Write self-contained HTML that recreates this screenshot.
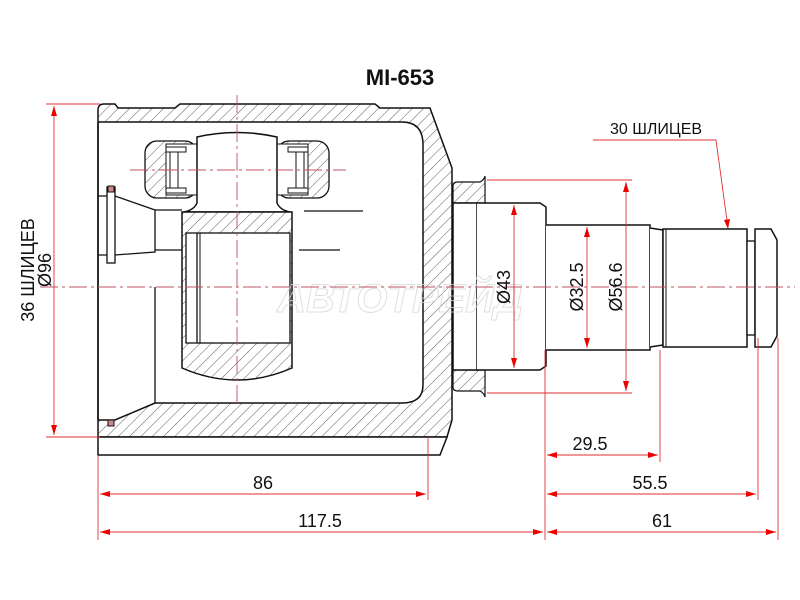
<!DOCTYPE html>
<html><head><meta charset="utf-8"><style>
html,body{margin:0;padding:0;background:#fff;}
svg{display:block;}
text{font-family:"Liberation Sans",sans-serif;}
</style></head><body>
<svg width="800" height="600" viewBox="0 0 800 600" xmlns="http://www.w3.org/2000/svg">
<defs>
<pattern id="h" patternUnits="userSpaceOnUse" width="8" height="8" patternTransform="rotate(45)">
<rect width="8" height="8" fill="#fff"/><line x1="0" y1="0" x2="0" y2="8" stroke="#333" stroke-width="0.8"/>
</pattern>
<marker id="a" viewBox="0 0 10 6" refX="10" refY="3" markerWidth="10" markerHeight="6" orient="auto-start-reverse" markerUnits="userSpaceOnUse"><path d="M0,0 L10,3 L0,6z" fill="#e00"/></marker>
</defs>

<text x="400" y="85" font-size="22" font-weight="bold" text-anchor="middle" fill="#111">MI-653</text>

<!-- body hatched shell -->
<path d="M98,110 Q98,104 104,104 L115,104 L118,108 L175,108 L180,104 L375,104 L380,108 L430,108 L452,168 L452,420 L447,437 L98,437 Z M98,122 L402,122 Q423,122 423,145 L423,385 Q423,403 402,403 L155,403 L115,420 L98,420 Z" fill="url(#h)" fill-rule="evenodd" stroke="#111" stroke-width="1.5"/>
<path d="M98,437 L447,437 L440,455 L98,455 Z" fill="#fff" stroke="#111" stroke-width="1.5"/>
<line x1="98" y1="122" x2="98" y2="420" stroke="#111" stroke-width="1.5"/>
<!-- left seal -->
<rect x="107" y="187" width="8" height="76" fill="#fff" stroke="#111" stroke-width="1.3"/>
<path d="M98,196 L107,196 M98,255 L107,255 M115,196 L155,210 L155,252 L115,255" fill="none" stroke="#111" stroke-width="1.3"/>
<line x1="155" y1="287" x2="155" y2="403" stroke="#111" stroke-width="1.3"/>
<line x1="155" y1="210" x2="182" y2="210" stroke="#111" stroke-width="1.3"/>
<line x1="155" y1="250" x2="182" y2="250" stroke="#111" stroke-width="1.3"/>
<rect x="108" y="186" width="6" height="6" fill="#c88" stroke="#111"/>
<rect x="108" y="420" width="6" height="6" fill="#c88" stroke="#111"/>

<!-- rollers housing -->
<rect x="145" y="141" width="52" height="57" rx="12" fill="url(#h)" stroke="#111" stroke-width="1.3"/>
<rect x="277" y="141" width="52" height="57" rx="12" fill="url(#h)" stroke="#111" stroke-width="1.3"/>
<rect x="166" y="144" width="31" height="51" fill="#fff" stroke="#111" stroke-width="1"/>
<rect x="277" y="144" width="31" height="51" fill="#fff" stroke="#111" stroke-width="1"/>
<rect x="170" y="150" width="8" height="40" fill="#fff" stroke="#111"/>
<rect x="296" y="150" width="8" height="40" fill="#fff" stroke="#111"/>
<rect x="166" y="147" width="20" height="5" fill="#fff" stroke="#111"/>
<rect x="166" y="188" width="20" height="5" fill="#fff" stroke="#111"/>
<rect x="288" y="147" width="20" height="5" fill="#fff" stroke="#111"/>
<rect x="288" y="188" width="20" height="5" fill="#fff" stroke="#111"/>
<!-- trunnion -->
<path d="M197,137 Q237,128 277,137 L277,203 Q280,210 290,212 L184,212 Q194,210 197,203 Z" fill="#fff" stroke="#111" stroke-width="1.5"/>
<line x1="304" y1="211" x2="363" y2="211" stroke="#111" stroke-width="1.3"/>
<line x1="299" y1="250" x2="340" y2="250" stroke="#111" stroke-width="1.3"/>
<!-- tripod center -->
<path d="M182,212 L292,212 L292,368 Q237,392 182,368 Z" fill="url(#h)" stroke="#111" stroke-width="1.5"/>
<rect x="186" y="233" width="104" height="110" fill="#fff" stroke="#111" stroke-width="1.3"/>
<line x1="197" y1="233" x2="197" y2="343" stroke="#111" stroke-width="1.3"/>
<line x1="200" y1="233" x2="200" y2="343" stroke="#111" stroke-width="1"/>

<!-- shaft -->
<path d="M453,186 Q453,182 458,182 L480,182 Q484,180 485,176 L485,203 L453,203 Z" fill="url(#h)" stroke="#111" stroke-width="1.2"/>
<path d="M453,387 Q453,391 458,391 L480,391 Q484,393 485,397 L485,370 L453,370 Z" fill="url(#h)" stroke="#111" stroke-width="1.2"/>
<rect x="453" y="203" width="24" height="167" fill="#fff" stroke="#111" stroke-width="1.5"/>
<path d="M477,203 L540,203 L546,207 L546,366 L540,370 L477,370" fill="#fff" stroke="#111" stroke-width="1.5"/>
<path d="M546,225 L650,225 L650,350 L546,350" fill="#fff" stroke="#111" stroke-width="1.5"/>
<path d="M650,228 L663,230 L663,345 L650,347" fill="#fff" stroke="#111" stroke-width="1.5"/>
<rect x="663" y="229" width="84" height="118" fill="#fff" stroke="#111" stroke-width="1.5"/>
<line x1="666" y1="229" x2="666" y2="347" stroke="#111"/>
<rect x="747" y="241" width="8" height="94" fill="#fff" stroke="#111" stroke-width="1.3"/>
<path d="M755,229 L771,229 L777,240 L777,336 L771,347 L755,347 Z" fill="#fff" stroke="#111" stroke-width="1.5"/>

<!-- watermark -->
<text x="400" y="312" font-size="40" font-style="italic" font-weight="bold" text-anchor="middle" fill="none" stroke="#d8d8d8" stroke-width="1" opacity="0.8">АВТОТРЕЙД</text>

<!-- centerlines -->
<g stroke="#c05060" stroke-width="0.9" stroke-dasharray="18,4,3,4" fill="none">
<line x1="40" y1="287" x2="795" y2="287"/>
<line x1="237" y1="95" x2="237" y2="405"/>
<line x1="130" y1="170" x2="346" y2="170"/>
</g>

<!-- dimension lines -->
<g stroke="#e03030" stroke-width="0.9" fill="none">
<line x1="46" y1="104" x2="100" y2="104"/>
<line x1="46" y1="437" x2="100" y2="437"/>
<line x1="54" y1="106" x2="54" y2="435" marker-start="url(#a)" marker-end="url(#a)"/>
<line x1="514" y1="205" x2="514" y2="368" marker-start="url(#a)" marker-end="url(#a)"/>
<line x1="587" y1="227" x2="587" y2="348" marker-start="url(#a)" marker-end="url(#a)"/>
<line x1="487" y1="180" x2="632" y2="180"/>
<line x1="487" y1="393" x2="632" y2="393"/>
<line x1="626" y1="182" x2="626" y2="391" marker-start="url(#a)" marker-end="url(#a)"/>
<line x1="98" y1="455" x2="98" y2="540"/>
<line x1="428" y1="437" x2="428" y2="500"/>
<line x1="545" y1="350" x2="545" y2="540"/>
<line x1="660" y1="350" x2="660" y2="462"/>
<line x1="758" y1="338" x2="758" y2="500"/>
<line x1="778" y1="338" x2="778" y2="540"/>
<line x1="100" y1="494" x2="426" y2="494" marker-start="url(#a)" marker-end="url(#a)"/>
<line x1="100" y1="532" x2="543" y2="532" marker-start="url(#a)" marker-end="url(#a)"/>
<line x1="547" y1="455" x2="658" y2="455" marker-start="url(#a)" marker-end="url(#a)"/>
<line x1="547" y1="494" x2="756" y2="494" marker-start="url(#a)" marker-end="url(#a)"/>
<line x1="547" y1="532" x2="776" y2="532" marker-start="url(#a)" marker-end="url(#a)"/>
<polyline points="593,140 716,140 728,228"/>
</g>
<path d="M724,220 L728,229 L730,219 Z" fill="#e00"/>

<!-- labels -->
<g font-size="18" fill="#111" text-anchor="middle">
<text x="263" y="489">86</text>
<text x="320" y="527">117.5</text>
<text x="590" y="450">29.5</text>
<text x="650" y="489">55.5</text>
<text x="662" y="527">61</text>
<text x="656" y="134" font-size="16">30 ШЛИЦЕВ</text>
<text transform="translate(510,287) rotate(-90)">Ø43</text>
<text transform="translate(583,287) rotate(-90)">Ø32.5</text>
<text transform="translate(622,287) rotate(-90)">Ø56.6</text>
<text transform="translate(34,270) rotate(-90)">36 ШЛИЦЕВ</text>
<text transform="translate(51,270) rotate(-90)">Ø96</text>
</g>
</svg>
</body></html>
